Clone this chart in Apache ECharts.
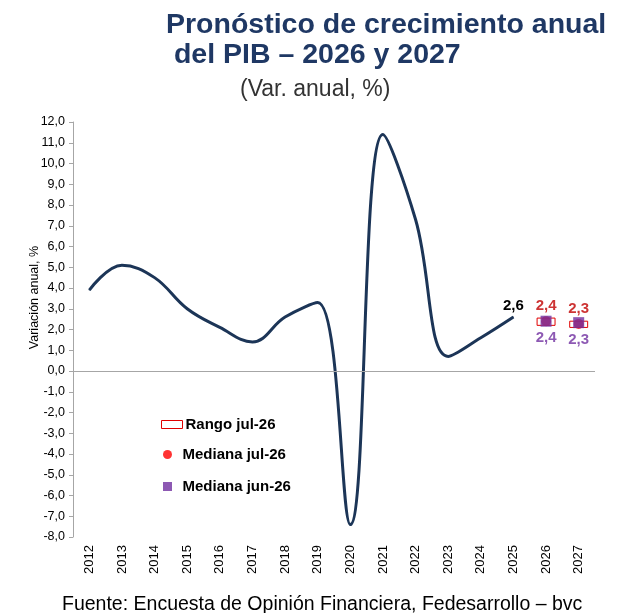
<!DOCTYPE html>
<html>
<head>
<meta charset="utf-8">
<script src="https://cdn.jsdelivr.net/npm/echarts@6/dist/echarts.min.js"></script>
<style>
  html, body { margin: 0; padding: 0; background: #fff; }
  #main { width: 629px; height: 613px; }
</style>
</head>
<body>
<div id="main"></div>
<script>
// años del eje x
var years = ['2012', '2013', '2014', '2015', '2016', '2017', '2018', '2019',
             '2020', '2021', '2022', '2023', '2024', '2025', '2026', '2027'];
// crecimiento observado del PIB (%)
var pib = [3.9, 5.1, 4.5, 3.0, 2.1, 1.4, 2.6, 3.3, -7.4, 11.4, 7.3, 0.7, 1.6, 2.6];
// pronósticos
var forecastYears = ['2026', '2027'];
var rangoLow = [2.2, 2.1];
var rangoHigh = [2.55, 2.4];
var medianaJul = [2.4, 2.27];
var medianaJun = [2.4, 2.33];

function fmt(v) { return v.toFixed(1).replace('.', ','); }

var myChart = echarts.init(document.getElementById('main'));

var lineData = pib.map(function (v, i) {
    if (i === pib.length - 1) {
        return { value: v, label: { show: true } };
    }
    return v;
});

var legendText = { fontSize: 15, fontWeight: 'bold', color: '#000' };

var option = {
    animation: false,
    textStyle: { fontFamily: 'Liberation Sans, Arial, sans-serif' },
    title: [{
        text: 'Pronóstico de crecimiento anual\n del PIB – 2026 y 2027',
        left: 166,
        top: 10,
        padding: 0,
        textStyle: { fontSize: 28.5, fontWeight: 'bold', color: '#1F3864', lineHeight: 30 }
    }, {
        text: '(Var. anual, %)',
        left: 240,
        top: 78,
        padding: 0,
        textStyle: { fontSize: 23, fontWeight: 'normal', color: '#333' }
    }, {
        text: 'Fuente: Encuesta de Opinión Financiera, Fedesarrollo – bvc',
        left: 62,
        top: 595,
        padding: 0,
        textStyle: { fontSize: 19.5, fontWeight: 'normal', color: '#000' }
    }],
    legend: [{
        data: [{ name: 'Rango jul-26', icon: 'rect', itemStyle: { color: '#fff', borderColor: '#E00000', borderWidth: 1 } }],
        left: 161, top: 417, padding: 0, itemWidth: 21, itemHeight: 8,
        selectedMode: false,
        textStyle: Object.assign({ padding: [0, 0, 0, -2] }, legendText)
    }, {
        data: [{ name: 'Mediana jul-26', icon: 'circle' }],
        left: 163, top: 447, padding: 0, itemWidth: 14, itemHeight: 9,
        selectedMode: false,
        textStyle: Object.assign({ padding: [0, 0, 0, 3] }, legendText)
    }, {
        data: [{ name: 'Mediana jun-26', icon: 'path://M0,0h10v10h-10z' }],
        left: 163, top: 479, padding: 0, itemWidth: 14, itemHeight: 9,
        selectedMode: false,
        textStyle: Object.assign({ padding: [0, 0, 0, 3] }, legendText)
    }],
    grid: { left: 73, right: 34, top: 122, bottom: 76, containLabel: false },
    xAxis: {
        type: 'category',
        data: years,
        boundaryGap: true,
        axisLine: { show: false },
        axisTick: { show: false },
        axisLabel: { rotate: 90, fontSize: 13, color: '#000', margin: 8 }
    },
    yAxis: {
        type: 'value',
        min: -8,
        max: 12,
        interval: 1,
        name: 'Variación anual, %',
        nameLocation: 'middle',
        nameGap: 32,
        nameMoveOverlap: false,
        nameTextStyle: { fontSize: 12.5, color: '#000', padding: [0, 0, 0, 64] },
        axisLine: { show: true, lineStyle: { color: '#A6A6A6', width: 1 } },
        axisTick: { show: true, length: 4, lineStyle: { color: '#A6A6A6' } },
        axisLabel: { fontSize: 12.5, color: '#000', margin: 8, formatter: fmt },
        splitLine: { show: false }
    },
    series: [{
        name: 'PIB',
        type: 'line',
        data: lineData,
        smooth: 0.4,
        symbol: 'circle',
        symbolSize: 1,
        showSymbol: true,
        lineStyle: { color: '#1C3557', width: 3 },
        itemStyle: { color: '#1C3557' },
        label: {
            show: false,
            position: 'top',
            distance: 3,
            fontSize: 15,
            fontWeight: 'bold',
            color: '#000',
            formatter: function (p) { return fmt(p.value); }
        },
        markLine: {
            silent: true,
            symbol: 'none',
            label: { show: false },
            lineStyle: { color: '#A6A6A6', width: 1, type: 'solid' },
            data: [{ yAxis: 0 }]
        }
    }, {
        name: 'Rango jul-26',
        type: 'custom',
        data: forecastYears.map(function (y, i) { return [y, rangoLow[i], rangoHigh[i]]; }),
        encode: { x: 0, y: [1, 2] },
        itemStyle: { color: '#fff', borderColor: '#E00000' },
        renderItem: function (params, api) {
            var x = api.value(0);
            var lo = api.coord([x, api.value(1)]);
            var hi = api.coord([x, api.value(2)]);
            var w = api.size([1, 0])[0] * 0.55;
            return {
                type: 'rect',
                shape: { x: lo[0] - w / 2, y: hi[1], width: w, height: lo[1] - hi[1] },
                style: { fill: '#fff', stroke: '#E00000', lineWidth: 1 }
            };
        }
    }, {
        name: 'Mediana jul-26',
        type: 'scatter',
        data: forecastYears.map(function (y, i) { return [y, medianaJul[i]]; }),
        symbol: 'circle',
        symbolSize: 10,
        itemStyle: { color: '#FF0000' },
        label: {
            show: true,
            position: 'top',
            distance: 3,
            fontSize: 15,
            fontWeight: 'bold',
            color: '#C00000',
            formatter: function (p) { return fmt(p.value[1]); }
        }
    }, {
        name: 'Mediana jun-26',
        type: 'scatter',
        data: forecastYears.map(function (y, i) { return [y, medianaJun[i]]; }),
        symbol: 'rect',
        symbolSize: 11,
        itemStyle: { color: '#7030A0' },
        label: {
            show: true,
            position: 'bottom',
            distance: 4,
            fontSize: 15,
            fontWeight: 'bold',
            color: '#7030A0',
            formatter: function (p) { return fmt(p.value[1]); }
        }
    }]
};

myChart.setOption(option);
</script>
</body>
</html>
